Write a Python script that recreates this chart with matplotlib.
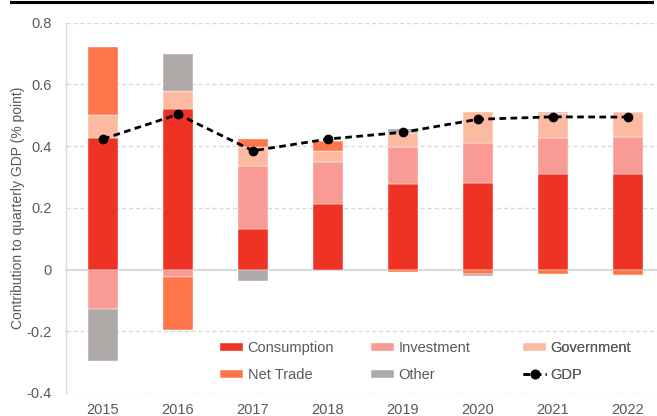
import numpy as np
import matplotlib
matplotlib.use("Agg")
import matplotlib.pyplot as plt
from matplotlib.lines import Line2D

plt.rcParams['font.family'] = ['Liberation Sans', 'DejaVu Sans']

years = ['2015', '2016', '2017', '2018', '2019', '2020', '2021', '2022']
consumption = [0.427, 0.520, 0.130, 0.213, 0.276, 0.280, 0.309, 0.311]
investment = [-0.127, -0.025, 0.207, 0.137, 0.122, 0.129, 0.116, 0.120]
government = [0.073, 0.058, 0.061, 0.035, 0.044, 0.102, 0.081, 0.079]
net_trade = [0.220, -0.170, 0.025, 0.033, -0.009, -0.013, -0.014, -0.018]
other = [-0.168, 0.122, -0.036, 0.000, 0.013, -0.008, 0.004, 0.002]
gdp = [0.423, 0.503, 0.385, 0.423, 0.445, 0.487, 0.495, 0.494]

series = [
    ('Consumption', consumption, '#EE3224'),
    ('Investment', investment, '#F99A94'),
    ('Government', government, '#FCBBA1'),
    ('Net Trade', net_trade, '#FC764A'),
    ('Other', other, '#AEA9A7'),
]

txt = '#595959'
grid_c = '#D9D9D9'

fig = plt.figure(figsize=(6.57, 4.16), dpi=100)
ax = fig.add_axes([65.5/657, 1-393/416, 600/657, (393-22.7)/416])

x = np.arange(len(years))
pos_bottom = np.zeros(len(years))
neg_bottom = np.zeros(len(years))
handles = {}
for name, vals, col in series:
    v = np.array(vals, dtype=float)
    b = np.where(v >= 0, pos_bottom, neg_bottom)
    bars = ax.bar(x, v, bottom=b, width=0.4, color=col, edgecolor='white',
                  linewidth=0.3, label=name, zorder=3)
    handles[name] = bars
    pos_bottom = pos_bottom + np.where(v >= 0, v, 0)
    neg_bottom = neg_bottom + np.where(v < 0, v, 0)

ln, = ax.plot(x, gdp, color='black', linestyle=(0, (2.4, 1.6)), linewidth=2,
              marker='o', markersize=6, label='GDP', zorder=5)
handles['GDP'] = ln

ax.set_xlim(-0.5, 7.5)
ax.set_ylim(-0.4, 0.8)
yt = [-0.4, -0.2, 0, 0.2, 0.4, 0.6, 0.8]
ax.set_yticks(yt)
ax.set_yticklabels(['-0.4', '-0.2', '0', '0.2', '0.4', '0.6', '0.8'])
ax.set_xticks(x)
ax.set_xticklabels(years)
ax.tick_params(axis='both', length=0, labelsize=10.5, colors=txt)
ax.tick_params(axis='y', pad=10)
ax.tick_params(axis='x', pad=7)

for t in yt:
    if t == 0:
        ax.axhline(0, color=grid_c, linewidth=1.5, zorder=1)
    else:
        ax.axhline(t, color=grid_c, linewidth=1, linestyle=(0, (3, 2)), zorder=1)

for s in ['top', 'right', 'bottom']:
    ax.spines[s].set_visible(False)
ax.spines['left'].set_color(grid_c)
ax.spines['left'].set_linewidth(1)

fig.text(18/657, 1-207.5/416, 'Contribution to quarterly GDP (% point)',
         rotation=90, ha='center', va='center', fontsize=10, color=txt)

# legend as three columns
cols = [(['Consumption', 'Net Trade'], 220), (['Investment', 'Other'], 371),
        (['Government', 'GDP'], 523)]
for names, xpix in cols:
    leg = ax.legend([handles[n] for n in names], names, loc='center left',
                    bbox_to_anchor=(xpix/657, 1-361.5/416),
                    bbox_transform=fig.transFigure, frameon=False,
                    fontsize=10.5, labelcolor=txt, handlelength=1.6,
                    handleheight=0.5, handletextpad=0.3, borderpad=0,
                    borderaxespad=0, labelspacing=0.88)
    ax.add_artist(leg)

fig.add_artist(Line2D([11/657, 652/657], [1-1.5/416, 1-1.5/416],
                      transform=fig.transFigure, color='black', linewidth=2.2))

fig.savefig('out.png', dpi=100)
